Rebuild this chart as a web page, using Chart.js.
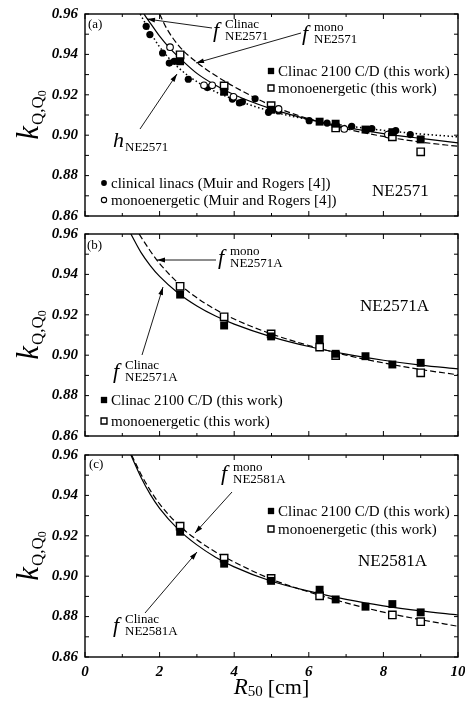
<!DOCTYPE html>
<html><head><meta charset="utf-8">
<script src="https://cdn.jsdelivr.net/npm/chart.js@4.4.1/dist/chart.umd.min.js"></script>
<style>
html,body{margin:0;padding:0;background:#fff;}
body{width:465px;height:704px;position:relative;overflow:hidden;}
canvas{position:absolute;left:0;}
</style></head><body>
<canvas id="pa" width="465" height="226" style="top:0px"></canvas>
<canvas id="pb" width="465" height="220" style="top:226px"></canvas>
<canvas id="pc" width="465" height="258" style="top:446px"></canvas>
<script>
// ================= DATA =================
const xTickLabels = [0, 2, 4, 6, 8, 10];
const yTickLabels = [0.86, 0.88, 0.90, 0.92, 0.94, 0.96];

const legendClinac = 'Clinac 2100 C/D (this work)';
const legendMono = 'monoenergetic (this work)';
const legendMuirLinac = 'clinical linacs (Muir and Rogers [4])';
const legendMuirMono = 'monoenergetic (Muir and Rogers [4])';

// Panel (a) NE2571
const a_clinacR50 = [2.55, 3.73, 4.99, 6.29, 6.72, 7.52, 8.24, 9.0];
const a_clinacK   = [0.9366, 0.9215, 0.9126, 0.9067, 0.9057, 0.9028, 0.9015, 0.8979];
const a_monoR50   = [2.55, 3.73, 4.99, 6.72, 8.24, 9.0];
const a_monoK     = [0.9398, 0.9244, 0.9146, 0.9036, 0.8992, 0.8918];
const a_muirLinacR50 = [1.64, 1.74, 2.08, 2.26, 2.39, 2.77, 3.28, 3.95, 4.14, 4.22, 4.56, 4.92, 5.19, 6.01, 6.49, 7.15, 7.69, 8.33, 8.72];
const a_muirLinacK   = [0.9539, 0.9498, 0.9407, 0.9357, 0.9366, 0.9277, 0.9236, 0.9179, 0.9160, 0.9165, 0.9180, 0.9113, 0.9120, 0.9072, 0.9060, 0.9044, 0.9033, 0.9023, 0.9003];
const a_muirMonoR50  = [2.28, 3.19, 3.41, 3.98, 5.19, 6.95, 8.12];
const a_muirMonoK    = [0.9436, 0.9247, 0.9247, 0.9190, 0.9130, 0.9031, 0.9003];
const a_fClinacR50 = [1.58, 1.75, 2.0, 2.25, 2.55, 3.0, 3.5, 4.0, 5.0, 6.0, 7.0, 8.0, 9.0, 10.0];
const a_fClinacK   = [0.960, 0.9555, 0.949, 0.9435, 0.938, 0.9306, 0.9247, 0.920, 0.913, 0.9078, 0.9039, 0.9008, 0.8984, 0.8962];
const a_fMonoR50   = [2.0, 2.2, 2.55, 3.0, 3.5, 4.0, 5.0, 6.0, 7.0, 8.0, 9.0, 10.0];
const a_fMonoK     = [0.960, 0.9525, 0.9435, 0.936, 0.9295, 0.924, 0.9147, 0.9081, 0.9031, 0.8994, 0.8966, 0.8945];
const a_hR50       = [1.48, 1.75, 2.0, 2.5, 3.0, 3.5, 4.0, 5.0, 6.0, 7.0, 8.0, 9.0, 10.0];
const a_hK         = [0.960, 0.951, 0.9437, 0.9335, 0.9265, 0.9215, 0.9177, 0.9118, 0.9077, 0.9047, 0.9024, 0.9006, 0.8992];

// Panel (b) NE2571A
const b_clinacR50 = [2.55, 3.73, 4.99, 6.29, 6.72, 7.52, 8.24, 9.0];
const b_clinacK   = [0.9300, 0.9147, 0.9093, 0.9080, 0.9007, 0.8995, 0.8954, 0.8962];
const b_monoR50   = [2.55, 3.73, 4.99, 6.29, 6.72, 9.0];
const b_monoK     = [0.9341, 0.9190, 0.9105, 0.9040, 0.8998, 0.8913];
const b_fClinacR50 = [1.23, 1.5, 1.75, 2.0, 2.5, 3.0, 3.5, 4.0, 5.0, 6.0, 7.0, 8.0, 9.0, 10.0];
const b_fClinacK   = [0.960, 0.9509, 0.9444, 0.939, 0.9307, 0.9244, 0.9194, 0.9154, 0.9091, 0.9043, 0.9005, 0.8975, 0.8951, 0.8932];
const b_fMonoR50   = [1.45, 1.75, 2.0, 2.5, 3.0, 3.5, 4.0, 5.0, 6.0, 7.0, 8.0, 9.0, 10.0];
const b_fMonoK     = [0.960, 0.9516, 0.9454, 0.9357, 0.9284, 0.9226, 0.9179, 0.9105, 0.9048, 0.9000, 0.8962, 0.8929, 0.8903];

// Panel (c) NE2581A
const c_clinacR50 = [2.55, 3.73, 4.99, 6.29, 6.72, 7.52, 8.24, 9.0];
const c_clinacK   = [0.9220, 0.9062, 0.8977, 0.8933, 0.8885, 0.8849, 0.8862, 0.8821];
const c_monoR50   = [2.55, 3.73, 4.99, 6.29, 8.24, 9.0];
const c_monoK     = [0.9248, 0.9089, 0.8989, 0.8903, 0.8808, 0.8775];
const c_fClinacR50 = [1.23, 1.5, 1.75, 2.0, 2.5, 3.0, 3.5, 4.0, 5.0, 6.0, 7.0, 8.0, 9.0, 10.0];
const c_fClinacK   = [0.960, 0.949, 0.9405, 0.9336, 0.9232, 0.9155, 0.9094, 0.9046, 0.8975, 0.8926, 0.8885, 0.8853, 0.8828, 0.8808];
const c_fMonoR50   = [1.25, 1.5, 1.75, 2.0, 2.5, 3.0, 3.5, 4.0, 5.0, 6.0, 7.0, 8.0, 9.0, 10.0];
const c_fMonoK     = [0.960, 0.9505, 0.9425, 0.9358, 0.9255, 0.918, 0.912, 0.907, 0.8985, 0.8922, 0.8868, 0.8822, 0.8785, 0.8752];

// ================= STYLE / HELPERS =================
const SERIF = '"Liberation Serif", "Times New Roman", serif';
const pts = (xs, ys) => xs.map((x, i) => ({x: x, y: ys[i]}));
const curve = (label, xs, ys, dash, w) => ({label, data: pts(xs, ys), showLine: true, pointRadius: 0,
  borderColor: '#000', borderWidth: w || 1.2, borderDash: dash, cubicInterpolationMode: 'monotone', fill: false, order: 10});
const filledSq = (label, xs, ys) => ({label, data: pts(xs, ys), showLine: false, pointStyle: 'rect', pointRadius: 5.6,
  backgroundColor: '#000', borderColor: '#000', borderWidth: 0, order: 1});
const openSq = (label, xs, ys) => ({label, data: pts(xs, ys), showLine: false, pointStyle: 'rect', pointRadius: 5.2,
  backgroundColor: '#fff', borderColor: '#000', borderWidth: 1.4, order: 2});
const filledCirc = (label, xs, ys) => ({label, data: pts(xs, ys), showLine: false, pointStyle: 'circle', pointRadius: 3.6,
  backgroundColor: '#000', borderColor: '#000', borderWidth: 0, order: 4});
const openCirc = (label, xs, ys) => ({label, data: pts(xs, ys), showLine: false, pointStyle: 'circle', pointRadius: 3.3,
  backgroundColor: '#fff', borderColor: '#000', borderWidth: 1.1, order: 3});

function marker(ctx, ds, x, y, scale) {
  ctx.save();
  ctx.fillStyle = ds.backgroundColor; ctx.strokeStyle = ds.borderColor; ctx.lineWidth = ds.borderWidth;
  const r = ds.pointRadius * scale;
  ctx.beginPath();
  if (ds.pointStyle === 'rect') { const s = r * Math.SQRT1_2; ctx.rect(x - s, y - s, 2 * s, 2 * s); }
  else ctx.arc(x, y, r, 0, 2 * Math.PI);
  ctx.fill(); if (ds.borderWidth > 0) ctx.stroke();
  ctx.restore();
}
function arrow(ctx, x1, y1, x2, y2) {
  ctx.lineWidth = 0.9;
  ctx.beginPath(); ctx.moveTo(x1, y1); ctx.lineTo(x2, y2); ctx.stroke();
  const a = Math.atan2(y2 - y1, x2 - x1), L = 8, W = 2.4;
  ctx.beginPath(); ctx.moveTo(x2, y2);
  ctx.lineTo(x2 - L * Math.cos(a) + W * Math.sin(a), y2 - L * Math.sin(a) - W * Math.cos(a));
  ctx.lineTo(x2 - L * Math.cos(a) - W * Math.sin(a), y2 - L * Math.sin(a) + W * Math.cos(a));
  ctx.closePath(); ctx.fill();
}

const decor = {
  id: 'decor',
  afterDatasetsDraw(chart, args, o) {
    const ctx = chart.ctx, ca = chart.chartArea, xs = chart.scales.x, ys = chart.scales.y;
    const L = ca.left, T = ca.top;
    ctx.save();
    ctx.strokeStyle = '#000'; ctx.fillStyle = '#000';
    // inward ticks on all four sides
    ctx.lineWidth = 1;
    ctx.beginPath();
    xs.ticks.forEach(t => {
      const px = xs.getPixelForValue(t.value);
      const len = Math.round(t.value) % 2 === 0 ? 5 : 3;
      ctx.moveTo(px, ca.bottom); ctx.lineTo(px, ca.bottom - len);
      ctx.moveTo(px, ca.top); ctx.lineTo(px, ca.top + len);
    });
    ys.ticks.forEach(t => {
      const py = ys.getPixelForValue(t.value);
      ctx.moveTo(ca.left, py); ctx.lineTo(ca.left + 4, py);
      ctx.moveTo(ca.right, py); ctx.lineTo(ca.right - 4, py);
    });
    ctx.stroke();
    // frame
    ctx.lineWidth = 1.4;
    ctx.strokeRect(ca.left, ca.top, ca.right - ca.left, ca.bottom - ca.top);

    ctx.textAlign = 'left';
    // panel tag
    ctx.textBaseline = 'alphabetic';
    ctx.font = `13px ${SERIF}`;
    ctx.fillText(o.tag.text, L + o.tag.dx, T + o.tag.dy);
    // detector name
    ctx.font = `17px ${SERIF}`;
    ctx.textBaseline = 'middle';
    ctx.fillText(o.name.text, L + o.name.dx, T + o.name.dy);
    // function labels
    ctx.textBaseline = 'alphabetic';
    o.flabels.forEach(f => {
      const x = L + f.dx, b = T + f.dy;
      ctx.font = `italic 22px ${SERIF}`;
      ctx.fillText(f.main, x, b);
      ctx.font = `13px ${SERIF}`;
      if (f.sup) ctx.fillText(f.sup, x + 12, b - 9);
      ctx.fillText(f.sub, x + 12, b + (f.sup ? 3 : 4));
    });
    // arrows
    o.arrows.forEach(a => arrow(ctx, L + a[0], T + a[1], L + a[2], T + a[3]));
    // legends
    ctx.font = `15px ${SERIF}`;
    ctx.textBaseline = 'middle';
    o.legends.forEach(lg => {
      lg.sets.forEach((di, k) => {
        const ds = chart.data.datasets[di];
        const mx = L + lg.dx, my = T + lg.dy + k * lg.step;
        marker(ctx, ds, mx, my, 0.8);
        ctx.fillStyle = '#000';
        ctx.fillText(ds.label, mx + 7, my + 1);
      });
    });
    // y-axis title k_{Q,Q0}
    ctx.save();
    ctx.translate(38, (ca.top + ca.bottom) / 2);
    ctx.rotate(-Math.PI / 2);
    ctx.textBaseline = 'alphabetic';
    const fk = `italic 31px ${SERIF}`, fs = `17px ${SERIF}`, fss = `12px ${SERIF}`;
    ctx.font = fk; const wk = ctx.measureText('k').width;
    ctx.font = fs; const wsub = ctx.measureText('Q,Q').width;
    ctx.font = fss; const wss = ctx.measureText('0').width;
    let tx = -(wk + 1 + wsub + wss) / 2;
    ctx.font = fk; ctx.fillText('k', tx, 0); tx += wk + 1;
    ctx.font = fs; ctx.fillText('Q,Q', tx, 5); tx += wsub;
    ctx.font = fss; ctx.fillText('0', tx, 8);
    ctx.restore();
    // x-axis title
    if (o.xTitle) {
      const fR = `italic 23px ${SERIF}`, f50 = `15px ${SERIF}`, fcm = `22px ${SERIF}`;
      ctx.font = fR; const wR = ctx.measureText('R').width;
      ctx.font = f50; const w50 = ctx.measureText('50').width;
      ctx.font = fcm; const wcm = ctx.measureText('[cm]').width;
      let x = (ca.left + ca.right) / 2 - (wR + w50 + 5 + wcm) / 2;
      const b = ca.bottom + 31;
      ctx.font = fR; ctx.fillText('R', x, b); x += wR;
      ctx.font = f50; ctx.fillText('50', x, b + 4); x += w50 + 5;
      ctx.font = fcm; ctx.fillText('[cm]', x, b);
    }
    ctx.restore();
  }
};

function makePanel(id, datasets, padTop, padBottom, xHeight, showX, deco) {
  return new Chart(document.getElementById(id), {
    type: 'scatter',
    data: {datasets},
    plugins: [decor],
    options: {
      responsive: false, animation: false, events: [],
      layout: {padding: {left: 0, right: 7, top: padTop, bottom: padBottom}},
      plugins: {legend: {display: false}, tooltip: {enabled: false}, decor: deco},
      scales: {
        x: {type: 'linear', min: 0, max: 10,
          grid: {display: false, drawTicks: false}, border: {display: false},
          ticks: {display: showX, stepSize: 1, autoSkip: false, padding: 6, color: '#000',
            font: {family: SERIF, size: 15, style: 'italic', weight: 'bold'},
            callback: v => xTickLabels.includes(Math.round(v)) && Math.abs(v - Math.round(v)) < 1e-6 ? String(Math.round(v)) : ''},
          afterFit: s => { s.height = xHeight; s.paddingLeft = 0; s.paddingRight = 0; }},
        y: {type: 'linear', min: 0.86, max: 0.96,
          grid: {display: false, drawTicks: false}, border: {display: false},
          ticks: {stepSize: 0.01, autoSkip: false, padding: 7, color: '#000',
            font: {family: SERIF, size: 15, style: 'italic', weight: 'bold'},
            callback: v => yTickLabels.some(t => Math.abs(t - v) < 1e-6) ? v.toFixed(2) : ''},
          afterFit: s => { s.width = 85; s.paddingTop = 0; s.paddingBottom = 0; }}
      }
    }
  });
}

// Panel (a)
makePanel('pa', [
  filledSq(legendClinac, a_clinacR50, a_clinacK),      // 0
  openSq(legendMono, a_monoR50, a_monoK),              // 1
  filledCirc(legendMuirLinac, a_muirLinacR50, a_muirLinacK), // 2
  openCirc(legendMuirMono, a_muirMonoR50, a_muirMonoK),      // 3
  curve('f Clinac NE2571', a_fClinacR50, a_fClinacK, []),
  curve('f mono NE2571', a_fMonoR50, a_fMonoK, [6, 3]),
  curve('h NE2571', a_hR50, a_hK, [1.5, 2.5], 1.5)
], 14, 10, 0, false, {
  tag: {text: '(a)', dx: 3, dy: 14},
  name: {text: 'NE2571', dx: 287, dy: 178},
  flabels: [
    {main: 'f', sup: 'Clinac', sub: 'NE2571', dx: 128, dy: 23},
    {main: 'f', sup: 'mono', sub: 'NE2571', dx: 217, dy: 26},
    {main: 'h', sup: '', sub: 'NE2571', dx: 28, dy: 133}
  ],
  arrows: [[127, 14, 62, 5], [216, 19, 111, 49], [55, 115, 92, 60]],
  legends: [{dx: 186, dy: 57, step: 17, sets: [0, 1]}, {dx: 19, dy: 169, step: 17, sets: [2, 3]}]
});

// Panel (b)
makePanel('pb', [
  filledSq(legendClinac, b_clinacR50, b_clinacK),
  openSq(legendMono, b_monoR50, b_monoK),
  curve('f Clinac NE2571A', b_fClinacR50, b_fClinacK, []),
  curve('f mono NE2571A', b_fMonoR50, b_fMonoK, [6, 3])
], 8, 10, 0, false, {
  tag: {text: '(b)', dx: 2, dy: 15},
  name: {text: 'NE2571A', dx: 275, dy: 73},
  flabels: [
    {main: 'f', sup: 'mono', sub: 'NE2571A', dx: 133, dy: 30},
    {main: 'f', sup: 'Clinac', sub: 'NE2571A', dx: 28, dy: 144}
  ],
  arrows: [[131, 26, 72, 26], [57, 121, 78, 53]],
  legends: [{dx: 19, dy: 166, step: 21, sets: [0, 1]}]
});

// Panel (c)
makePanel('pc', [
  filledSq(legendClinac, c_clinacR50, c_clinacK),
  openSq(legendMono, c_monoR50, c_monoK),
  curve('f Clinac NE2581A', c_fClinacR50, c_fClinacK, []),
  curve('f mono NE2581A', c_fMonoR50, c_fMonoK, [6, 3])
], 9, 0, 47, true, {
  tag: {text: '(c)', dx: 4, dy: 13},
  name: {text: 'NE2581A', dx: 273, dy: 107},
  flabels: [
    {main: 'f', sup: 'mono', sub: 'NE2581A', dx: 136, dy: 25},
    {main: 'f', sup: 'Clinac', sub: 'NE2581A', dx: 28, dy: 177}
  ],
  arrows: [[147, 37, 110, 78], [60, 158, 112, 97]],
  legends: [{dx: 186, dy: 56, step: 18, sets: [0, 1]}],
  xTitle: true
});
</script></body></html>
